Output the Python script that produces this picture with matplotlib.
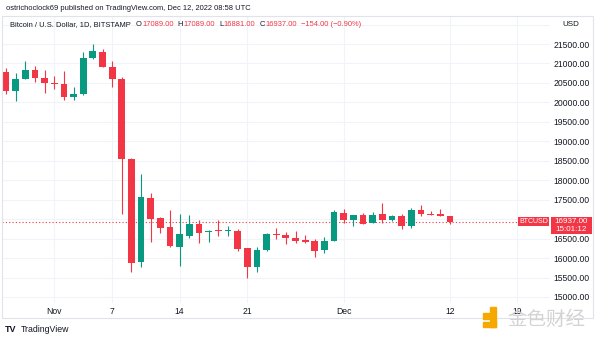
import numpy as np
import pandas as pd
import matplotlib
matplotlib.use("Agg")
import matplotlib.pyplot as plt
import matplotlib.dates as mdates
from matplotlib.patches import Rectangle
from matplotlib.transforms import blended_transform_factory

# BTC/USD daily candles, Bitstamp
dates = pd.date_range("2022-10-27", "2022-12-12", freq="D")
opens = [20790, 20295, 20600, 20820, 20630, 20500, 20475, 20150, 20205, 21150,
         21300, 20905, 20590, 18545, 15900, 17545, 17030, 16800, 16285, 16570,
         16875, 16670, 16700, 16690, 16700, 16260, 15765, 16200, 16610, 16600,
         16515, 16460, 16430, 16200, 16440, 17160, 16985, 17105, 16895, 17125,
         16980, 17080, 16835, 17225, 17140, 17130, 17089]
highs = [20890, 20760, 21070, 20940, 20830, 20680, 20800, 20395, 21290, 21490,
         21370, 21070, 20660, 18560, 18160, 17665, 17050, 17235, 17135, 17105,
         16980, 16720, 16980, 16825, 16750, 16260, 16285, 16645, 16780, 16680,
         16695, 16595, 16500, 16535, 17235, 17255, 17110, 17150, 17190, 17425,
         17115, 17125, 17280, 17355, 17220, 17255, 17089]
lows = [20215, 20030, 20590, 20530, 20250, 20340, 20060, 20060, 20180, 21110,
        20900, 20400, 17130, 15640, 15770, 16410, 16645, 16290, 15795, 16515,
        16390, 16410, 16570, 16570, 16180, 15490, 15645, 16180, 16480, 16365,
        16385, 16395, 16035, 16130, 16430, 16895, 16825, 16870, 16890, 16895,
        16945, 16755, 16765, 17090, 17100, 17085, 16881]
closes = [20295, 20600, 20820, 20630, 20500, 20475, 20150, 20205, 21150, 21310,
          20910, 20590, 18545, 15875, 17570, 17005, 16775, 16310, 16620, 16875,
          16645, 16695, 16690, 16705, 16235, 15770, 16205, 16615, 16590, 16505,
          16435, 16425, 16190, 16440, 17175, 16980, 17105, 16885, 17115, 16980,
          17090, 16835, 17225, 17135, 17115, 17090, 16937]

price_ticks = list(range(15000, 22000, 500))
date_ticks = ["2022-11-01", "2022-11-07", "2022-11-14", "2022-11-21",
              "2022-12-01", "2022-12-12", "2022-12-19"]
date_tick_labels = ["Nov", "7", "14", "21", "Dec", "12", "19"]

UP = "#089981"
DOWN = "#f23645"
TXT = "#131722"
GRID = "#f0f3fa"
FONT = "Liberation Sans"

plt.rcParams["font.family"] = [FONT, "DejaVu Sans"]

W, H = 600, 340
fig = plt.figure(figsize=(6, 3.4), dpi=100)
fig.patch.set_facecolor("white")

def fx(px):
    return px / W

def fy(py):
    return 1 - py / H

# plot pane in pixels: x 2..550, y 16..303
ax = fig.add_axes([fx(2), fy(303), fx(548), (303 - 16) / H])
for s in ax.spines.values():
    s.set_visible(False)

x = mdates.date2num(dates)
o = np.array(opens, float)
h = np.array(highs, float)
l = np.array(lows, float)
c = np.array(closes, float)
up = c >= o
cols = np.where(up, UP, DOWN)

ax.vlines(x, l, h, colors=cols, lw=0.8, zorder=3)
body_lo = np.minimum(o, c)
body_h = np.maximum(np.abs(c - o), 28)
ax.bar(x, body_h, bottom=body_lo, width=0.7, color=cols, lw=0, zorder=4)

# day 0 sits at pixel 6, one day = 9.65 px; 500 USD = 19.46 px, 21500 at pixel 44
ax.set_xlim(x[0] - 4 / 9.65, x[0] + (550 - 6) / 9.65)
ax.set_ylim(21500 - (303 - 44) / 19.46 * 500, 21500 + (44 - 16) / 19.46 * 500)

last = c[-1]
ax.set_yticks(price_ticks)
# the label under the last-price tag is hidden, as in TradingView
ax.set_yticklabels(["" if abs(v - last) < 150 else f"{v:.2f}" for v in price_ticks])
ax.yaxis.tick_right()
ax.tick_params(axis="y", length=0, pad=2.5, labelsize=6.2, labelcolor=TXT)

ax.set_xticks(mdates.date2num(pd.to_datetime(date_ticks)))
ax.set_xticklabels(date_tick_labels)
ax.tick_params(axis="x", length=0, pad=3, labelsize=6.2, labelcolor=TXT)

ax.grid(True, color=GRID, lw=0.8, zorder=0)
ax.axhline(22000, color=GRID, lw=0.8, zorder=0)
ax.set_axisbelow(True)

# last price line and labels
tr = blended_transform_factory(ax.transAxes, ax.transData)
ax.plot([0, 516 / 548], [last, last], transform=tr, color=DOWN, lw=0.8,
        ls=(0, (1, 2)), zorder=2)
pu = 500 / 19.46  # price per pixel
ax.add_patch(Rectangle((516 / 548, last - 4.5 * pu), 31 / 548, 9 * pu,
                       transform=tr, color=DOWN, lw=0, zorder=6, clip_on=False))
ax.text(531.5 / 548, last, "BTCUSD", transform=tr, color="white", fontsize=5.0,
        ha="center", va="center", zorder=7, clip_on=False)
ax.add_patch(Rectangle((549 / 548, last - 12.5 * pu), 41 / 548, 17 * pu,
                       transform=tr, color=DOWN, lw=0, zorder=6, clip_on=False))
ax.text(569.5 / 548, last + 0.3 * pu, f"{last:.2f}", transform=tr, color="white",
        fontsize=5.8, ha="center", va="center", zorder=7, clip_on=False)
ax.text(569.5 / 548, last - 8 * pu, "15:01:12", transform=tr, color="white",
        fontsize=5.8, ha="center", va="center", zorder=7, clip_on=False)

# outer frame
fig.add_artist(Rectangle((fx(2), fy(318)), fx(591), (318 - 16) / H,
                         transform=fig.transFigure, fill=False,
                         ec="#e0e3eb", lw=0.8))

# header texts
fig.text(fx(6), fy(8), "ostrichoclock69 published on TradingView.com, Dec 12, 2022 08:58 UTC",
         fontsize=5.4, color=TXT, va="center")

renderer = fig.canvas.get_renderer()
chg = -154.0
legend_parts = [
    ("Bitcoin / U.S. Dollar, 1D, BITSTAMP", TXT, 5),
    ("O", TXT, 0.5), (f"{opens[-1]:.2f}", DOWN, 4),
    ("H", TXT, 0.5), (f"{highs[-1]:.2f}", DOWN, 4),
    ("L", TXT, 0.5), (f"{lows[-1]:.2f}", DOWN, 4),
    ("C", TXT, 0.5), (f"{closes[-1]:.2f}", DOWN, 4),
    (f"\u2212{abs(chg):.2f} (\u22120.90%)", DOWN, 0),
]
cur = 10
for txt, col, gap in legend_parts:
    t = fig.text(fx(cur), fy(25), txt, fontsize=5.4, color=col, va="center")
    bb = t.get_window_extent(renderer)
    cur = bb.x1 + gap
fig.text(fx(562), fy(25), "USD", fontsize=5.8, color=TXT, va="center")

# TradingView footer
fig.text(fx(5), fy(330), "TV", fontsize=6.5, fontweight="bold", color=TXT,
         va="center")
fig.text(fx(21), fy(330), "TradingView", fontsize=6.3, color=TXT, va="center")

# watermark
logo = "#f5a800"
fig.add_artist(Rectangle((fx(483), fy(319)), fx(6), 6 / H, color=logo,
                         transform=fig.transFigure))
fig.add_artist(Rectangle((fx(490), fy(327)), fx(6), 20 / H, color=logo,
                         transform=fig.transFigure))
fig.add_artist(Rectangle((fx(483), fy(327)), fx(13), 5 / H, color=logo,
                         transform=fig.transFigure))
fig.text(fx(507), fy(319), "金色财经", fontsize=14, color="#cfcfcf",
         family=["Noto Sans CJK SC", "DejaVu Sans"], va="center", alpha=0.9)

fig.savefig("out.png", dpi=100, facecolor="white")
